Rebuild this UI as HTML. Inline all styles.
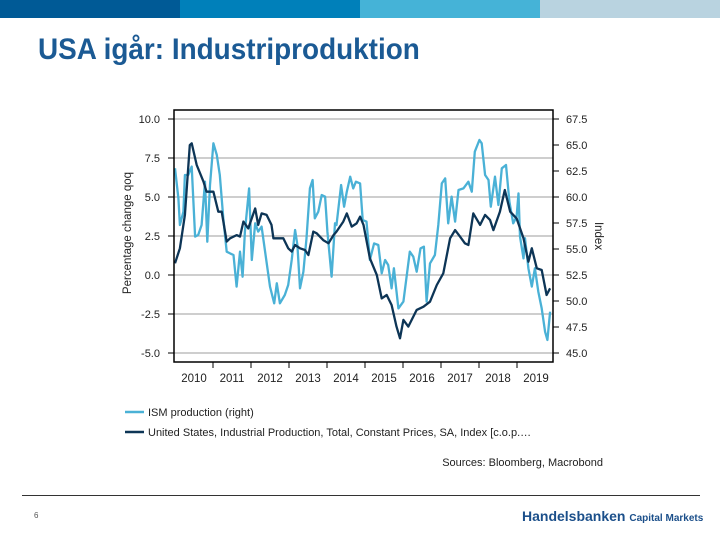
<!DOCTYPE html>
<html><head><meta charset="utf-8"><style>
body{margin:0;width:720px;height:540px;overflow:hidden;background:#fff;font-family:"Liberation Sans",sans-serif;position:relative}
.bar{position:absolute;top:0;height:18px;width:180px}
</style></head><body>
<div class="bar" style="left:0;background:#005a96"></div>
<div class="bar" style="left:180px;background:#0080ba"></div>
<div class="bar" style="left:360px;background:#45b3d7"></div>
<div class="bar" style="left:540px;background:#b9d3e0"></div>
<div style="position:absolute;left:38px;top:33px;font-size:30px;font-weight:bold;color:#1b5a94;white-space:nowrap;transform:scaleX(0.93);transform-origin:left">USA igår: Industriproduktion</div>
<svg id="chart" width="720" height="540" style="position:absolute;left:0;top:0" font-family="Liberation Sans, sans-serif"></svg>
<div style="position:absolute;left:22px;top:495px;width:678px;height:1px;background:#333"></div>
<div style="position:absolute;left:34px;top:511px;font-size:8px;color:#555">6</div>
<div style="position:absolute;left:522px;top:508px;color:#1b4f8a;font-weight:bold;font-size:14px;white-space:nowrap">Handelsbanken <span style="font-size:10px">Capital Markets</span></div>
<script>
const leftTicks=[10.0,7.5,5.0,2.5,0.0,-2.5,-5.0];
const rightTicks=[67.5,65.0,62.5,60.0,57.5,55.0,52.5,50.0,47.5,45.0];
const years=[2010,2011,2012,2013,2014,2015,2016,2017,2018,2019];
const ipDates=[2010.00,2010.13,2010.26,2010.39,2010.44,2010.57,2010.75,2010.83,2011.01,2011.14,2011.23,2011.36,2011.45,2011.62,2011.71,2011.80,2011.93,2012.11,2012.19,2012.28,2012.41,2012.54,2012.59,2012.68,2012.85,2012.98,2013.07,2013.16,2013.29,2013.42,2013.51,2013.64,2013.73,2013.90,2014.04,2014.17,2014.25,2014.43,2014.52,2014.65,2014.78,2014.87,2014.96,2015.13,2015.31,2015.44,2015.57,2015.70,2015.83,2015.92,2016.01,2016.14,2016.36,2016.54,2016.71,2016.89,2017.06,2017.24,2017.37,2017.50,2017.63,2017.72,2017.85,2018.03,2018.16,2018.29,2018.38,2018.55,2018.68,2018.82,2018.99,2019.17,2019.30,2019.39,2019.52,2019.65,2019.78,2019.87];
const ipValues=[0.75,1.71,3.85,8.33,8.44,7.05,5.98,5.34,5.34,4.06,4.06,2.14,2.35,2.56,2.46,3.42,2.99,4.27,3.21,3.95,3.85,3.21,2.35,2.35,2.35,1.71,1.50,1.92,1.71,1.60,1.28,2.78,2.67,2.24,2.03,2.56,2.78,3.42,3.95,3.10,3.31,3.74,3.21,1.07,0.00,-1.50,-1.28,-1.92,-3.31,-4.06,-2.88,-3.31,-2.24,-2.03,-1.71,-0.64,0.11,2.35,2.88,2.46,2.03,1.92,3.95,3.21,3.85,3.53,2.88,4.06,5.45,4.06,3.63,2.35,0.85,1.71,0.43,0.32,-1.28,-0.85];
const ismDates=[2010.00,2010.09,2010.13,2010.22,2010.26,2010.35,2010.44,2010.53,2010.61,2010.70,2010.79,2010.85,2010.92,2011.01,2011.10,2011.18,2011.27,2011.36,2011.45,2011.54,2011.62,2011.71,2011.78,2011.84,2011.95,2012.02,2012.11,2012.19,2012.28,2012.37,2012.50,2012.61,2012.68,2012.76,2012.89,2012.98,2013.07,2013.16,2013.22,2013.29,2013.38,2013.46,2013.55,2013.62,2013.68,2013.77,2013.86,2013.95,2014.01,2014.12,2014.21,2014.25,2014.37,2014.45,2014.52,2014.61,2014.69,2014.76,2014.87,2014.94,2015.04,2015.13,2015.24,2015.35,2015.44,2015.53,2015.61,2015.70,2015.76,2015.88,2016.01,2016.18,2016.27,2016.36,2016.46,2016.55,2016.62,2016.71,2016.84,2016.93,2017.02,2017.11,2017.19,2017.28,2017.37,2017.46,2017.59,2017.72,2017.81,2017.89,2018.01,2018.07,2018.16,2018.25,2018.31,2018.42,2018.51,2018.60,2018.71,2018.80,2018.90,2018.99,2019.04,2019.08,2019.17,2019.21,2019.30,2019.39,2019.47,2019.56,2019.65,2019.74,2019.80,2019.87];
const ismValues=[62.76,59.87,57.31,58.59,62.12,62.12,62.92,56.19,56.35,57.31,61.47,55.70,61.15,65.16,64.04,62.12,57.95,54.74,54.58,54.42,51.38,54.74,52.34,56.67,60.83,53.94,57.47,56.67,57.15,54.74,51.38,49.78,51.70,49.78,50.58,51.54,53.94,56.83,55.38,51.22,52.82,56.03,60.83,61.63,57.95,58.59,60.19,60.03,56.67,52.34,57.47,57.31,61.15,59.07,60.51,61.95,60.83,61.47,61.31,57.79,57.63,53.94,55.54,55.38,52.66,53.94,53.46,51.22,53.14,49.29,49.94,54.74,54.26,52.82,55.06,55.22,49.94,53.62,54.42,57.31,61.31,61.79,57.47,60.03,57.63,60.67,60.83,61.47,60.51,64.36,65.48,65.16,62.12,61.63,59.07,61.95,59.23,62.76,63.08,59.55,57.47,58.11,60.35,56.19,54.10,56.03,53.14,51.38,53.14,50.90,49.29,47.04,46.25,48.97];

const svg=document.getElementById('chart');const NS='http://www.w3.org/2000/svg';
function mk(t,a,p){const e=document.createElementNS(NS,t);for(const k in a)e.setAttribute(k,a[k]);(p||svg).appendChild(e);return e;}
const L=174,R=553,T=110,B=362;
const xS=d=>175+(d-2010)*38;
const yL=v=>119+(10-v)*15.6;
const yR=v=>119+(67.5-v)*(234/22.5);
leftTicks.forEach(v=>{
  const g=mk('line',{x1:L,x2:R,y1:yL(v),y2:yL(v),stroke:'#bdbdbd','stroke-width':1.5});
  
  
  mk('line',{x1:L-6,x2:L,y1:yL(v),y2:yL(v),stroke:'#000'});
  const t=mk('text',{x:160,y:yL(v)+4,'text-anchor':'end','font-size':11,fill:'#222'});t.textContent=v.toFixed(1);
  
  
});
rightTicks.forEach(v=>{
  mk('line',{x1:R,x2:R+6,y1:yR(v),y2:yR(v),stroke:'#000'});
  const t=mk('text',{x:566,y:yR(v)+4,'font-size':11,fill:'#222'});t.textContent=v.toFixed(1);
  
  
});
years.forEach(y=>{
  if(y>2010)mk('line',{x1:xS(y),x2:xS(y),y1:B,y2:B+6,stroke:'#000'});
  const t=mk('text',{x:xS(y+0.5),y:382,'text-anchor':'middle','font-size':11.5,fill:'#222'});t.textContent=y;
  
  
});
function line(ds,vs,sc,col,name){
  const p=mk('polyline',{points:ds.map((d,i)=>xS(d).toFixed(1)+','+sc(vs[i]).toFixed(1)).join(' '),fill:'none',stroke:col,'stroke-width':2.3,'stroke-linejoin':'round'});
  
  
}
line(ismDates,ismValues,yR,'#4ab1d6','ism-production-line');
line(ipDates,ipValues,yL,'#0d3556','industrial-production-line');
const fr=mk('rect',{x:L,y:T,width:R-L,height:B-T,fill:'none',stroke:'#000','stroke-width':1.5});


let t=mk('text',{x:0,y:0,'font-size':11.5,fill:'#222','text-anchor':'middle',transform:'translate(131,233) rotate(-90)'});t.textContent='Percentage change qoq';


t=mk('text',{x:0,y:0,'font-size':11.5,fill:'#222','text-anchor':'middle',transform:'translate(595,236) rotate(90)'});t.textContent='Index';


mk('line',{x1:125,x2:144,y1:412,y2:412,stroke:'#4ab1d6','stroke-width':2.5});
t=mk('text',{x:148,y:416,'font-size':11,fill:'#222'});t.textContent='ISM production (right)';


mk('line',{x1:125,x2:144,y1:432,y2:432,stroke:'#0d3556','stroke-width':2.5});
t=mk('text',{x:148,y:436,'font-size':11,fill:'#222'});t.textContent='United States, Industrial Production, Total, Constant Prices, SA, Index [c.o.p.…';


t=mk('text',{x:603,y:466,'font-size':11,fill:'#222','text-anchor':'end'});t.textContent='Sources: Bloomberg, Macrobond';


</script>
</body></html>
